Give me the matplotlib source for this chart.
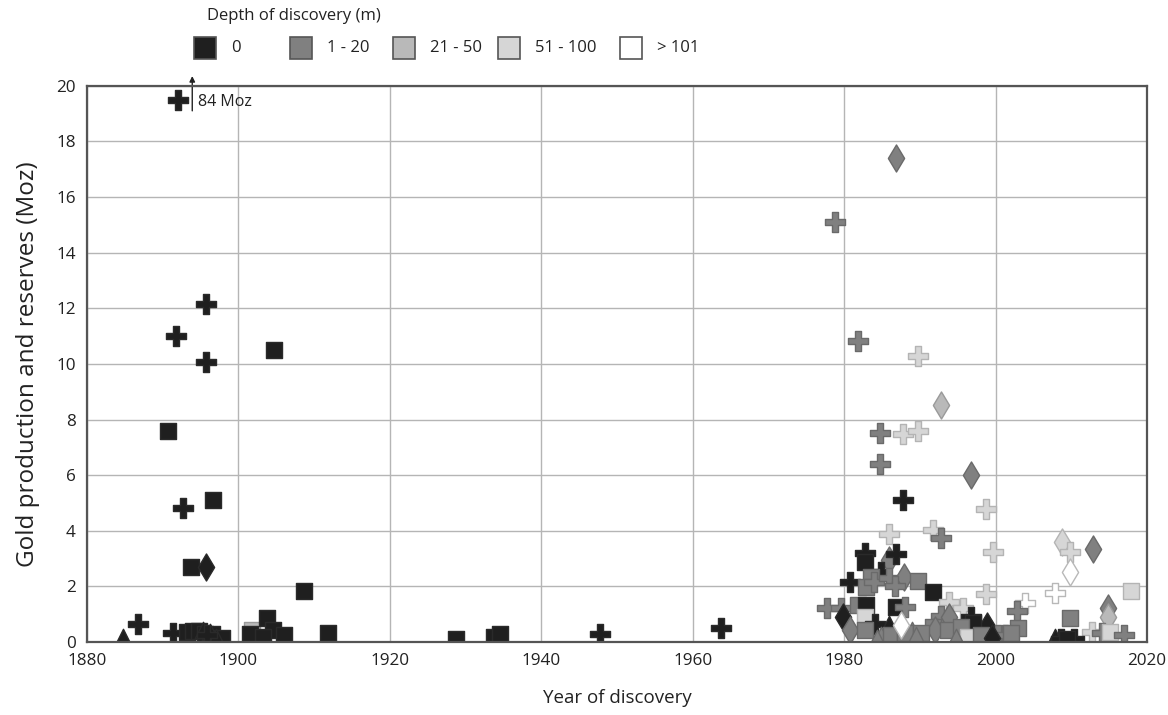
import matplotlib.pyplot as plt
from matplotlib.patches import Rectangle

plt.rcParams['font.family'] = ['Open Sans', 'DejaVu Sans']

# depth classes and their greys
depth_labels = ['0', '1 - 20', '21 - 50', '51 - 100', '> 101']
depth_fill = ['#1f1f1f', '#808080', '#b9b9b9', '#d6d6d6', '#ffffff']
depth_edge = ['#2a2a2a', '#6a6a6a', '#9a9a9a', '#b4b4b4', '#b8b8b8']

# each deposit: year, Moz, marker, depth class index
years = [
    1892.0, 1891.8, 1895.7, 1895.7, 1890.7, 1892.7, 1896.7, 1893.8, 1895.7, 1904.7,
    1908.7, 1884.8, 1886.7, 1891.4, 1893.2, 1894.0, 1894.8, 1895.6, 1896.5, 1897.8,
    1895.3, 1896.2, 1897.0, 1895.8, 1901.8, 1901.5, 1903.8, 1904.6, 1903.3, 1906.0,
    1911.8, 1928.7, 1933.7, 1934.6, 1947.7, 1963.7,
    1986.8, 1978.8, 1981.8, 1989.8, 1992.8, 1984.8, 1987.8, 1989.8, 1984.8, 1996.8,
    1987.8, 1998.8, 1985.9, 1991.7, 1992.8, 1999.7, 2008.8, 2009.8, 2012.9, 2009.8,
    2007.8, 2017.9, 1982.8, 1982.8, 1985.9, 1986.9, 1980.8, 1984.9, 1983.6, 1982.9,
    1984.0, 1985.9, 1987.9, 1986.7, 1989.8, 1991.8, 1993.9, 1995.7, 1998.8, 2003.9,
    2002.8, 2009.8, 1977.8, 1979.6, 1979.8, 1980.8, 1981.8, 1982.9, 1982.7, 1986.9,
    1988.0, 1984.1, 1985.9, 1992.8, 1996.8, 1998.9, 2014.9, 2014.9, 2012.7, 2014.0,
    2015.1, 2016.9, 2007.8, 2008.6, 2010.4, 2009.5, 1982.7, 1984.9, 1986.2, 1988.0,
    1993.9, 1997.0, 1991.7, 1992.0, 1988.9, 1988.0, 1990.2, 1989.5, 1993.7, 1995.5,
    1996.4, 1998.1, 2000.3, 2001.2, 2002.9, 2002.1, 1987.5, 1994.8, 1999.5, 1984.3,
]
moz = [
    19.5, 11.0, 12.15, 10.07, 7.6, 4.82, 5.1, 2.7, 2.7, 10.5,
    1.84, 0.2, 0.65, 0.31, 0.35, 0.4, 0.4, 0.3, 0.3, 0.15,
    0.45, 0.35, 0.2, 0.25, 0.45, 0.3, 0.88, 0.43, 0.19, 0.25,
    0.31, 0.12, 0.2, 0.28, 0.3, 0.5,
    17.4, 15.1, 10.84, 10.3, 8.53, 7.5, 7.48, 7.6, 6.39, 6.0,
    5.1, 4.77, 3.87, 4.03, 3.73, 3.23, 3.61, 3.25, 3.35, 2.53,
    1.77, 1.83, 3.21, 2.89, 2.95, 3.17, 2.17, 2.53, 2.35, 1.97,
    2.17, 2.29, 2.35, 2.02, 2.19, 1.8, 1.45, 1.23, 1.72, 1.42,
    1.1, 0.85, 1.21, 1.21, 0.89, 0.43, 1.33, 1.33, 0.91, 1.25,
    1.27, 0.64, 0.64, 0.94, 0.91, 0.58, 1.21, 0.91, 0.37, 0.31,
    0.37, 0.25, 0.2, 0.12, 0.12, 0.1, 0.43, 0.25, 0.25, 0.25,
    0.91, 0.67, 0.55, 0.43, 0.43, 0.31, 0.31, 0.25, 0.43, 0.55,
    0.19, 0.25, 0.25, 0.25, 0.49, 0.31, 0.6, 0.2, 0.15, 0.15,
]
shapes = [
    'P', 'P', 'P', 'P', 's', 'P', 's', 's', 'd', 's',
    's', '^', 'P', 'P', 's', 's', 's', 's', 's', 's',
    '^', '^', '^', 'P', 's', 's', 's', 's', 's', 's',
    's', 's', 's', 's', 'P', 'P',
    'd', 'P', 'P', 'P', 'd', 'P', 'P', 'P', 'P', 'd',
    'P', 'P', 'P', 'P', 'P', 'P', 'd', 'P', 'd', 'd',
    'P', 's', 'P', 's', 'd', 'P', 'P', 'P', 's', 's',
    'P', 'P', 'd', 'P', 's', 's', 'P', 'P', 'P', 'P',
    'P', 's', 'P', 'P', 'd', 'd', 's', 's', 's', 's',
    'P', 'P', '^', 'P', 'P', 'd', 'd', 'd', 'P', 'P',
    's', 'P', '^', 'P', 'P', 's', 's', '^', 's', 's',
    'd', 's', 's', 'd', '^', 's', 's', '^', 's', 's',
    's', 's', 'P', 'P', 's', 's', 'd', '^', 'd', '^',
]
depth = [
    0, 0, 0, 0, 0, 0, 0, 0, 0, 0,
    0, 0, 0, 0, 0, 0, 0, 0, 0, 0,
    0, 0, 0, 0, 2, 0, 0, 0, 0, 0,
    0, 0, 0, 0, 0, 0,
    1, 1, 1, 3, 2, 1, 3, 3, 1, 1,
    0, 3, 3, 3, 1, 3, 3, 3, 1, 4,
    4, 3, 0, 0, 1, 0, 0, 0, 1, 1,
    1, 1, 1, 1, 1, 0, 3, 3, 3, 4,
    1, 1, 1, 1, 0, 1, 1, 0, 3, 0,
    1, 0, 0, 1, 0, 0, 1, 2, 3, 1,
    3, 1, 0, 0, 0, 0, 1, 1, 1, 1,
    1, 0, 1, 1, 1, 1, 1, 1, 1, 1,
    3, 1, 1, 1, 1, 1, 4, 1, 0, 1,
]

marker_size = {'P': 200, 's': 130, 'd': 190, '^': 140}

fig, ax = plt.subplots(figsize=(11.68, 7.15), dpi=100)
fig.subplots_adjust(left=0.0745, right=0.982, bottom=0.102, top=0.88)

for i in range(len(years)):
    ax.scatter(years[i], moz[i], marker=shapes[i], s=marker_size[shapes[i]],
               facecolor=depth_fill[depth[i]], edgecolor=depth_edge[depth[i]],
               linewidths=1.0, zorder=3)

ax.set_xlim(1880, 2020)
ax.set_ylim(0, 20)
ax.set_xticks(range(1880, 2021, 20))
ax.set_yticks(range(0, 21, 2))
ax.grid(True, color='#b5b5b5', linewidth=1.0, zorder=0)
ax.tick_params(length=0, labelsize=12.3, pad=8, colors='#222222')
for side in ['left', 'bottom', 'top', 'right']:
    ax.spines[side].set_color('#555555')
    ax.spines[side].set_linewidth(1.6)
    ax.spines[side].set_zorder(4)

ax.set_xlabel('Year of discovery', fontsize=13.5, color='#222222', labelpad=14)
ax.set_ylabel('Gold production and reserves (Moz)', fontsize=17.5, color='#222222', labelpad=12)

# off-scale deposit
ax.annotate('', xy=(1893.9, 20.45), xytext=(1893.9, 19.0), annotation_clip=False,
            arrowprops=dict(arrowstyle='-|>', color='#222222', lw=1.0, mutation_scale=8))
ax.text(1894.6, 19.4, '84 Moz', fontsize=11.5, va='center', color='#222222')

# legend drawn in figure pixels
W, H = 1168, 715
fig.text(207 / W, 1 - 16 / H, 'Depth of discovery (m)', fontsize=12, va='center', color='#222222')
box_x = [194, 290, 393, 498, 620]
for k in range(len(depth_labels)):
    fig.add_artist(Rectangle((box_x[k] / W, 1 - 59 / H), 22 / W, 22 / H,
                             transform=fig.transFigure, facecolor=depth_fill[k],
                             edgecolor='#555555', linewidth=1.2))
    fig.text((box_x[k] + 37) / W, 1 - 48 / H, depth_labels[k], fontsize=12,
             va='center', color='#222222')

fig.savefig('out.png', dpi=100)
